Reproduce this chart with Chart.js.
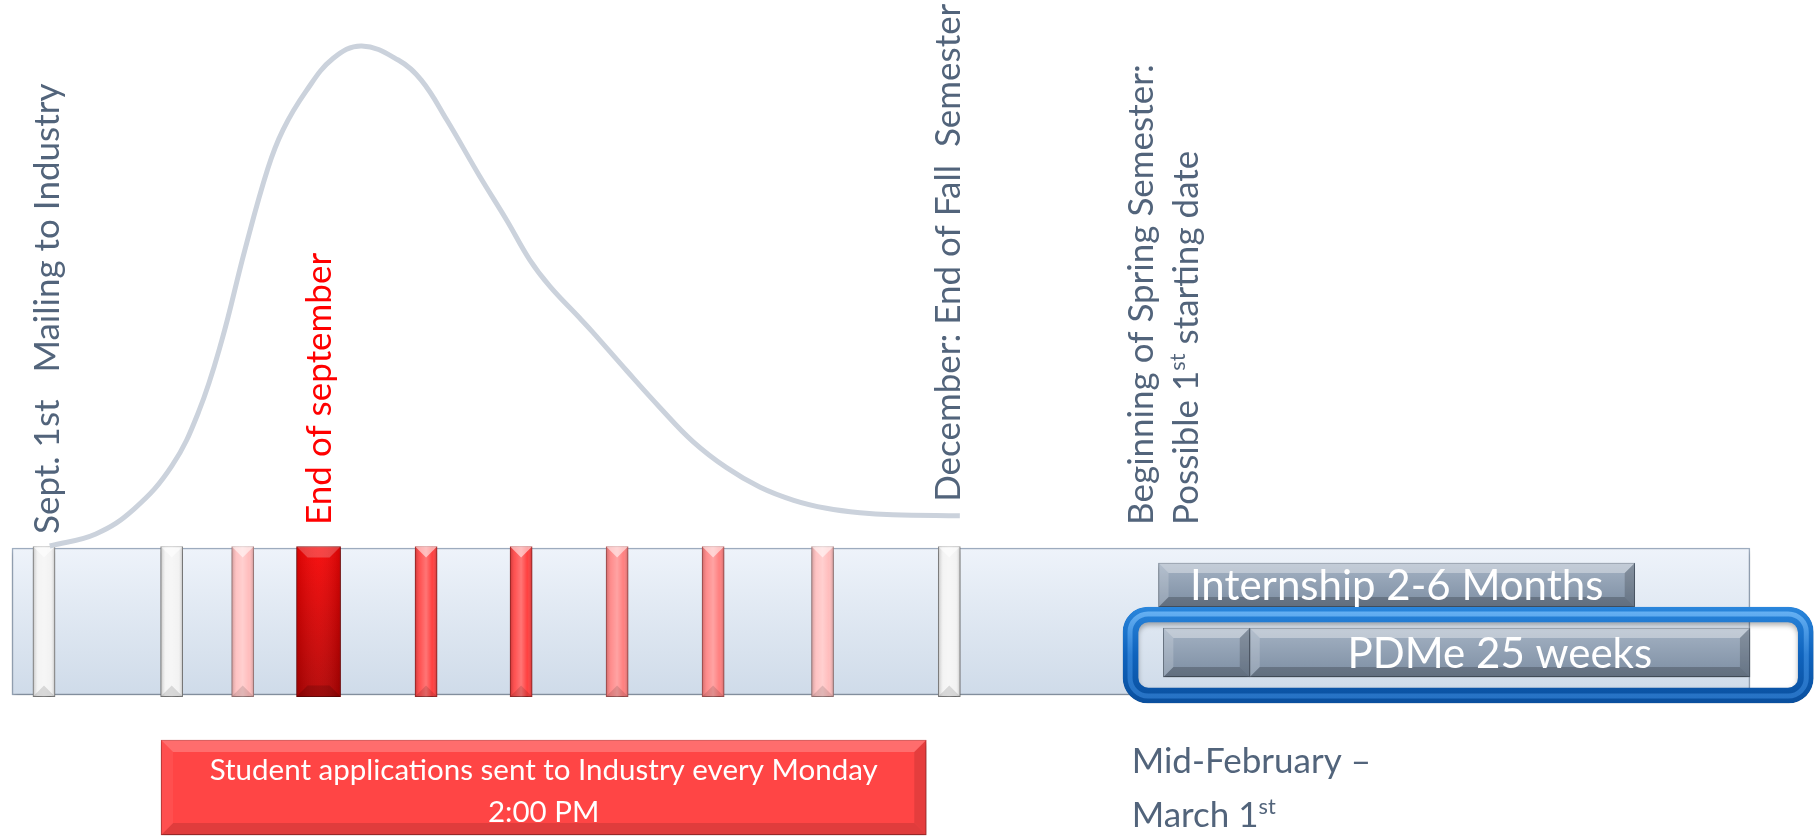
<!DOCTYPE html>
<html>
<head>
<meta charset="utf-8">
<script src="https://cdn.jsdelivr.net/npm/chart.js@4/dist/chart.umd.min.js"></script>
<style>
html,body{margin:0;padding:0;background:#ffffff;overflow:hidden}
#wrap{width:1814px;height:839px;position:relative}
</style>
</head>
<body>
<div id="wrap"><canvas id="c"></canvas></div>
<script>
// ---------------- DATA ----------------
// Timeline position in weeks after Sept. 1st; "interest" level of industry responses (peak = 100)
const curveWeeks    = [0.06,0.54,0.94,1.33,1.61,1.85,2.09,2.33,2.49,2.73,3.01,3.31,3.69,3.93,4.195,4.54,4.82,5.06,5.27,5.58,5.72,6.07,6.42,6.76,7.11,7.46,7.81,8.15,8.50,8.84,9.54];
const curveInterest = [0.4,2.8,7.8,16.3,27.1,41.2,59.2,75.5,83.3,91.0,97.5,100,97.2,93.2,85.3,74.0,65.3,57.4,52.1,45.8,42.9,35.3,27.9,21.2,16.0,12.1,9.5,7.9,7.0,6.6,6.4];

// Weekly markers on the timeline (week positions)
const whiteMarkers     = [0, 1.33, 9.43];
const lightPinkMarkers = [2.07, 8.11];
const darkRedMarkers   = [2.86];
const redMarkers       = [3.98, 4.97];
const salmonMarkers    = [5.97, 6.97];
const markerSpan       = [0.3, -29.6];

// Timeline bands (week ranges) and their levels
const trackSpan       = [-0.333, 17.77];  const trackLevel = -14.64;
const internshipSpan  = [11.61, 16.57];   const internshipLevel = -7.37;
const pdmeSpans       = [[11.66, 12.56], [12.56, 17.77]]; const pdmeLevel = -20.82;
const frameSpan       = [11.24, 18.43];   const frameLevel = -21.31;
const studentSpan     = [1.22, 9.19];     const studentLevel = -47.71;

// Labels
const markerLabels      = ['Sept. 1st   Mailing to Industry', 'End of september', 'December: End of Fall  Semester', 'Beginning of Spring Semester:', 'Possible 1{st} starting date'];
const markerLabelWeeks  = [0.156, 2.99, 9.54, 11.55, 12.02];
const markerLabelLevels = [2.8, 4.6, 9.2, 4.6, 4.6];
const studentBoxText    = ['Student applications sent to Industry every Monday', '2:00 PM'];
const studentTextLevels = [-46.2, -54.6];
const startWindowText   = ['Mid-February \u2013', 'March 1{st}'];
const startWindowWeek   = 11.33;
const startWindowLevels = [-44.9, -55.5];
const internshipText    = 'Internship 2-6 Months';
const pdmeText          = 'PDMe 25 weeks';

// ---------------- STYLE ----------------
const GRAY_TEXT = '#52647b';
const labelColors = [GRAY_TEXT, '#ff0000', GRAY_TEXT, GRAY_TEXT, GRAY_TEXT];
const FONT = 'Lato, "Open Sans", sans-serif';

function vMarkers(weeks){ return weeks.map(w => ({x: w, y: markerSpan})); }

function yGrad(chart, topLevel, botLevel, stops, fallback){
  if (!chart.chartArea) return fallback;
  const y = chart.scales.y;
  const g = chart.ctx.createLinearGradient(0, y.getPixelForValue(topLevel), 0, y.getPixelForValue(botLevel));
  stops.forEach(s => g.addColorStop(s[0], s[1]));
  return g;
}
function yGradPx(chart, centerLevel, thick, stops, fallback){
  if (!chart.chartArea) return fallback;
  const cy = chart.scales.y.getPixelForValue(centerLevel);
  const g = chart.ctx.createLinearGradient(0, cy - thick/2, 0, cy + thick/2);
  stops.forEach(s => g.addColorStop(s[0], s[1]));
  return g;
}

const markerShade = [[0,'rgba(0,0,0,0.20)'],[0.22,'rgba(255,255,255,0.10)'],[0.5,'rgba(255,255,255,0.28)'],[0.78,'rgba(255,255,255,0.0)'],[1,'rgba(0,0,0,0.22)']];
const markerBevel = {d: 11, top:'rgba(255,255,255,0.55)', bottom:'rgba(0,0,0,0.12)', left:null, right:null};
const markerShadow = {color:'rgba(0,0,0,0.35)', blur:5, dx:0, dy:3};

function markerDataset(label, weeks, color, border, thick){
  return {
    type:'bar', label, data: vMarkers(weeks), backgroundColor: color, borderColor: border, borderWidth: 1,
    barThickness: thick, grouped:false, borderSkipped:false, order:5,
    fx:{shadow: markerShadow, shade: markerShade, bevel: markerBevel}
  };
}

const datasets = [
  { type:'line', label:'Industry response', data: curveWeeks.map((w,i)=>({x:w, y:curveInterest[i]})),
    borderColor:'#cbd2dc', borderWidth:5, pointRadius:0, tension:0.4, fill:false, order:0, clip:false },

  { type:'bar', indexAxis:'y', label:'Timeline', data:[{x: trackSpan, y: trackLevel}], barThickness:147,
    backgroundColor: c => yGradPx(c.chart, trackLevel, 147, [[0,'#eef3fa'],[1,'#cfdbe9']], '#e0e8f2'),
    borderColor:'#a2b1c4', borderWidth:1.5, borderSkipped:false, grouped:false, order:10,
    fx:{shadow:{color:'rgba(0,0,0,0.25)', blur:6, dx:0, dy:3}} },

  markerDataset('Sept./Dec.', whiteMarkers, '#f3f3f3', '#9c9c9c', 22),
  markerDataset('Low', lightPinkMarkers, '#ffbdbd', '#c99a9a', 22),
  { type:'bar', label:'End of september', data: vMarkers(darkRedMarkers),
    backgroundColor: c => yGrad(c.chart, markerSpan[0], markerSpan[1], [[0,'#f70303'],[1,'#b20000']], '#d80000'),
    borderColor:'#8f0000', borderWidth:1, barThickness:44, grouped:false, borderSkipped:false, order:5,
    fx:{shadow: markerShadow, shade: [[0,'rgba(0,0,0,0.12)'],[0.5,'rgba(255,255,255,0.06)'],[1,'rgba(0,0,0,0.15)']], bevel:{d:11, top:'rgba(255,255,255,0.22)', bottom:'rgba(0,0,0,0.15)'}} },
  markerDataset('High', redMarkers, '#ff4040', '#c03030', 22),
  markerDataset('Medium', salmonMarkers, '#ff8080', '#c86060', 22),

  { type:'bar', indexAxis:'y', label:'Student applications', data:[{x: studentSpan, y: studentLevel}], barThickness:95,
    backgroundColor:'#ff4545', borderColor:'#c93333', borderWidth:1, borderSkipped:false, grouped:false, order:5,
    fx:{shadow:{color:'rgba(0,0,0,0.35)', blur:6, dx:0, dy:3},
        bevel:{d:12, top:'rgba(255,255,255,0.22)', bottom:'rgba(0,0,0,0.12)', left:'rgba(255,255,255,0.06)', right:'rgba(0,0,0,0.10)'}} },

  { type:'bar', indexAxis:'y', label:'Internship', data:[{x: internshipSpan, y: internshipLevel}], barThickness:44,
    backgroundColor: c => yGradPx(c.chart, internshipLevel, 44, [[0,'#a4b2c3'],[1,'#7d8ea3']], '#909fb2'),
    borderColor:'#5d6c7e', borderWidth:1, borderSkipped:false, grouped:false, order:5,
    fx:{shadow:{color:'rgba(0,0,0,0.35)', blur:5, dx:0, dy:3},
        bevel:{d:10, top:'rgba(255,255,255,0.35)', bottom:'rgba(0,0,0,0.22)', left:'rgba(255,255,255,0.18)', right:'rgba(0,0,0,0.18)'}} },

  { type:'bar', indexAxis:'y', label:'PDMe', data: pdmeSpans.map(s => ({x: s, y: pdmeLevel})), barThickness:49,
    backgroundColor: c => yGradPx(c.chart, pdmeLevel, 49, [[0,'#a4b2c3'],[1,'#7d8ea3']], '#909fb2'),
    borderColor:'#5d6c7e', borderWidth:1, borderSkipped:false, grouped:false, order:4,
    fx:{shadow:{color:'rgba(0,0,0,0.35)', blur:5, dx:0, dy:3},
        bevel:{d:10, top:'rgba(255,255,255,0.35)', bottom:'rgba(0,0,0,0.22)', left:'rgba(255,255,255,0.18)', right:'rgba(0,0,0,0.18)'}} },

  { type:'bar', indexAxis:'y', label:'PDMe frame', data:[{x: frameSpan, y: frameLevel}], barThickness:96,
    backgroundColor:'rgba(0,0,0,0)',
    borderColor: c => yGradPx(c.chart, frameLevel, 96, [[0,'#2a86dc'],[0.5,'#0f63bd'],[1,'#0a4f9e']], '#1468c2'),
    borderWidth:15, borderRadius:25, borderSkipped:false, grouped:false, order:2,
    fx:{shadow:{color:'rgba(0,0,0,0.3)', blur:5, dx:0, dy:3}, tube:{inset:7, width:5, radius:18}} }
];

// ---------------- DRAW HELPERS ----------------
function bounds(el){
  const p = el.getProps(['x','y','base','width','height','horizontal'], true);
  if (p.horizontal) return {L: Math.min(p.x,p.base), R: Math.max(p.x,p.base), T: p.y - p.height/2, B: p.y + p.height/2};
  return {L: p.x - p.width/2, R: p.x + p.width/2, T: Math.min(p.y,p.base), B: Math.max(p.y,p.base)};
}
function poly(c, pts, col){
  if (!col) return;
  c.beginPath(); c.moveTo(pts[0][0], pts[0][1]);
  for (let i=1;i<pts.length;i++) c.lineTo(pts[i][0], pts[i][1]);
  c.closePath(); c.fillStyle = col; c.fill();
}
function bevel(c, b, o){
  const d = Math.min(o.d, (b.R-b.L)/2, (b.B-b.T)/2);
  const {L,R,T,B} = b;
  poly(c, [[L,T],[R,T],[R-d,T+d],[L+d,T+d]], o.top);
  poly(c, [[L,B],[R,B],[R-d,B-d],[L+d,B-d]], o.bottom);
  poly(c, [[L,T],[L+d,T+d],[L+d,B-d],[L,B]], o.left);
  poly(c, [[R,T],[R-d,T+d],[R-d,B-d],[R,B]], o.right);
}
function shade(c, b, stops){
  const g = c.createLinearGradient(b.L,0,b.R,0);
  stops.forEach(s => g.addColorStop(s[0], s[1]));
  c.fillStyle = g; c.fillRect(b.L, b.T, b.R-b.L, b.B-b.T);
}
function tube(c, b, o){
  const L = b.L + o.inset, R = b.R - o.inset, T = b.T + o.inset, B = b.B - o.inset, r = o.radius;
  c.beginPath();
  c.moveTo(L + r, T); c.lineTo(R - r, T); c.arcTo(R, T, R, T + r, r);
  c.lineTo(R, B - r); c.arcTo(R, B, R - r, B, r); c.lineTo(L + r, B); c.arcTo(L, B, L, B - r, r);
  c.lineTo(L, T + r); c.arcTo(L, T, L + r, T, r); c.closePath();
  const g = c.createLinearGradient(0, b.T, 0, b.B);
  g.addColorStop(0, 'rgba(120,190,250,0.85)'); g.addColorStop(0.5, 'rgba(70,150,230,0.55)'); g.addColorStop(1, 'rgba(60,140,225,0.55)');
  c.strokeStyle = g; c.lineWidth = o.width; c.stroke();
}
function parseRich(str){
  const out = []; const re = /\{([^}]*)\}/g; let last = 0, m;
  while ((m = re.exec(str))) { if (m.index > last) out.push([str.slice(last, m.index), false]); out.push([m[1], true]); last = re.lastIndex; }
  if (last < str.length) out.push([str.slice(last), false]);
  return out;
}
function drawRich(c, str, x, y, size){
  let cx = x;
  parseRich(str).forEach(([t, sup]) => {
    const s = sup ? size*0.62 : size;
    c.font = s + 'px ' + FONT;
    c.fillText(t, cx, sup ? y - size*0.36 : y);
    cx += c.measureText(t).width;
  });
}

const decor = {
  id:'decor',
  beforeDatasetDraw(chart, args){
    const fx = chart.data.datasets[args.index].fx;
    if (fx && fx.shadow){ const c = chart.ctx; c.save(); c.shadowColor = fx.shadow.color; c.shadowBlur = fx.shadow.blur; c.shadowOffsetX = fx.shadow.dx; c.shadowOffsetY = fx.shadow.dy; }
  },
  afterDatasetDraw(chart, args){
    const fx = chart.data.datasets[args.index].fx;
    if (!fx) return;
    const c = chart.ctx;
    if (fx.shadow) c.restore();
    args.meta.data.forEach(el => {
      const b = bounds(el);
      c.save();
      if (fx.shade) shade(c, b, fx.shade);
      if (fx.bevel) bevel(c, b, fx.bevel);
      if (fx.tube) tube(c, b, fx.tube);
      c.restore();
    });
  },
  afterDraw(chart){
    const c = chart.ctx, xs = chart.scales.x, ys = chart.scales.y;
    c.save();
    // rotated marker labels
    markerLabels.forEach((t, i) => {
      c.save();
      c.translate(xs.getPixelForValue(markerLabelWeeks[i]), ys.getPixelForValue(markerLabelLevels[i]));
      c.rotate(-Math.PI/2);
      c.textAlign = 'left'; c.textBaseline = 'alphabetic';
      c.fillStyle = labelColors[i];
      drawRich(c, t, 0, 0, 35);
      c.restore();
    });
    // student box text
    c.fillStyle = '#ffffff'; c.textAlign = 'center'; c.textBaseline = 'alphabetic';
    c.font = '29.5px ' + FONT;
    const sx = xs.getPixelForValue((studentSpan[0] + studentSpan[1]) / 2);
    studentBoxText.forEach((t, i) => c.fillText(t, sx, ys.getPixelForValue(studentTextLevels[i])));
    // internship / PDMe text
    c.font = '42px ' + FONT; c.textBaseline = 'middle';
    c.fillText(internshipText, xs.getPixelForValue((internshipSpan[0] + internshipSpan[1]) / 2), ys.getPixelForValue(internshipLevel) + 1);
    const main = pdmeSpans[1];
    c.fillText(pdmeText, xs.getPixelForValue((main[0] + main[1]) / 2), ys.getPixelForValue(pdmeLevel) + 2);
    // start window text
    c.textAlign = 'left'; c.textBaseline = 'alphabetic'; c.fillStyle = GRAY_TEXT;
    startWindowText.forEach((t, i) => drawRich(c, t, xs.getPixelForValue(startWindowWeek), ys.getPixelForValue(startWindowLevels[i]), 35));
    c.restore();
  }
};

new Chart(document.getElementById('c'), {
  type:'line',
  data:{ datasets },
  options:{
    responsive:true, maintainAspectRatio:false, animation:false, events:[],
    layout:{padding:0},
    plugins:{legend:{display:false}, tooltip:{enabled:false}, title:{display:false}},
    scales:{
      x:{type:'linear', min:-0.4583, max:18.4375, offset:false, display:false},
      y:{type:'linear', min:-57.97, max:109.16, offset:false, display:false}
    }
  },
  plugins:[decor]
});
</script>
</body>
</html>
